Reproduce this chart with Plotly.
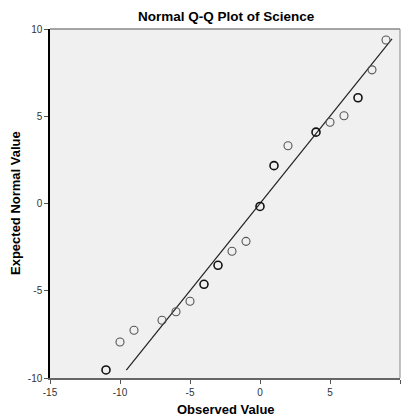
import plotly.graph_objects as go

observed = [-11, -10, -9, -7, -6, -5, -4, -3, -2, -1, 0, 1, 2, 4, 5, 6, 7, 8, 9]
expected = [-9.54, -7.94, -7.26, -6.69, -6.2, -5.6, -4.63, -3.54, -2.74, -2.17, -0.17,
            2.17, 3.31, 4.09, 4.66, 5.03, 6.06, 7.66, 9.37]
dup = [1, 0, 0, 0, 0, 0, 1, 1, 0, 0, 1, 1, 0, 1, 0, 0, 1, 0, 0]
line_x = [-9.55, 9.43]
line_y = [-9.55, 9.43]
x_ticks = [-15, -10, -5, 0, 5, 10]
y_ticks = [-10, -5, 0, 5, 10]

W, H = 402, 417
L, R, T, B = 50, 2, 29, 39

fig = go.Figure()
fig.add_trace(go.Scatter(x=line_x, y=line_y, mode="lines",
                         line=dict(color="#222222", width=1.2), hoverinfo="skip"))
fig.add_trace(go.Scatter(
    x=observed, y=expected, mode="markers", cliponaxis=False,
    marker=dict(symbol="circle-open", size=8,
                color=["#111111" if d else "#555555" for d in dup],
                line=dict(width=[1.6 if d else 1.1 for d in dup]))))

fig.update_layout(
    width=W, height=H,
    margin=dict(l=L, r=R, t=T, b=B, autoexpand=False),
    paper_bgcolor="white", plot_bgcolor="#F0F0F0",
    showlegend=False,
    font=dict(family="Liberation Sans, Arial, sans-serif", color="#000"),
)
fig.update_xaxes(range=[-15, 10], tickvals=x_ticks, ticktext=[str(v) for v in x_ticks],
                 showgrid=False, zeroline=False, ticks="outside", ticklen=4,
                 tickcolor="#555", tickfont=dict(size=10, color="#333"),
                 showline=True, linecolor="#666", linewidth=1.5, automargin=False)
fig.update_yaxes(range=[-10, 10], tickvals=y_ticks, ticktext=[str(v) for v in y_ticks],
                 showgrid=False, zeroline=False, ticks="outside", ticklen=4,
                 tickcolor="#555", tickfont=dict(size=10, color="#333"),
                 showline=True, linecolor="#000", linewidth=1.5, automargin=False)
fig.add_shape(type="line", xref="paper", yref="paper", x0=0, x1=1, y0=1, y1=1,
              line=dict(color="#888", width=1.5))
fig.add_shape(type="line", xref="paper", yref="paper", x0=1, x1=1, y0=0, y1=1,
              line=dict(color="#888", width=1))

pw = (W - L - R)
ph = (H - T - B)
def px_x(p):
    return (p - L) / pw
def px_y(p):
    return (H - B - p) / ph

fig.add_annotation(text="<b>Normal Q-Q Plot of Science</b>", xref="paper", yref="paper",
                   x=px_x(226), y=px_y(16), showarrow=False, xanchor="center",
                   yanchor="middle", font=dict(size=13.5, color="#000"))
fig.add_annotation(text="<b>Observed Value</b>", xref="paper", yref="paper",
                   x=px_x(226), y=px_y(409), showarrow=False, xanchor="center",
                   yanchor="middle", font=dict(size=13, color="#000"))
fig.add_annotation(text="<b>Expected Normal Value</b>", xref="paper", yref="paper",
                   x=px_x(15), y=px_y(203), showarrow=False, xanchor="center",
                   yanchor="middle", textangle=-90, font=dict(size=13, color="#000"))
fig.write_html("out.html", config={"displayModeBar": False},
               post_script="document.body.style.margin='0';")
